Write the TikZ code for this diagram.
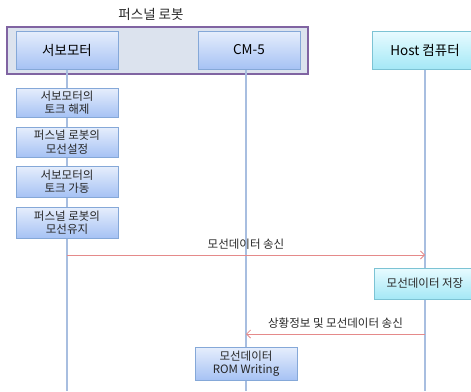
\documentclass[tikz,border=0pt]{standalone}
\usepackage{fontspec}
\setmainfont{Noto Sans CJK KR}
\usetikzlibrary{shadows,arrows.meta}
\definecolor{framecol}{HTML}{8064A2}
\definecolor{framefill}{HTML}{DCE3EE}
\definecolor{bluetop}{HTML}{E6EEFC}
\definecolor{bluebot}{HTML}{A6C2F4}
\definecolor{blueline}{HTML}{85A8D8}
\definecolor{cyantop}{HTML}{E8FBFF}
\definecolor{cyanbot}{HTML}{A4E8F6}
\definecolor{cyanline}{HTML}{7CC3D4}
\definecolor{lifecol}{HTML}{A8BEE0}
\definecolor{msgcol}{HTML}{E58A8A}
\tikzset{
  bluebox/.style={draw=blueline, line width=0.8pt, top color=bluetop, bottom color=bluebot,
    drop shadow={shadow xshift=1.2pt, shadow yshift=-1.2pt, opacity=0.35}, align=center, inner sep=0pt},
  cyanbox/.style={draw=cyanline, line width=0.8pt, top color=cyantop, bottom color=cyanbot,
    drop shadow={shadow xshift=1.2pt, shadow yshift=-1.2pt, opacity=0.35}, align=center, inner sep=0pt},
  lifeline/.style={draw=lifecol, line width=1.2pt},
  msg/.style={draw=msgcol, line width=0.8pt, -{Straight Barb[length=4pt,width=8pt]}},
  msglabel/.style={font=\fontsize{11.5}{13}\selectfont, text=black!85},
  headtext/.style={font=\fontsize{13.5}{15}\selectfont},
  acttext/.style={font=\fontsize{11.5}{13.5}\selectfont, text=black!85}
}
\begin{document}
\begin{tikzpicture}[x=1pt,y=-1pt]
\useasboundingbox (0,0) rectangle (471,391);
\clip (0,0) rectangle (471,391);
% frame
\node[draw=framecol, line width=2pt, fill=framefill, minimum width=301pt, minimum height=47pt, inner sep=0pt] (frame) at (157.5,50.5) {};
\node[headtext, text=black!85] (title) at (151,14) {퍼스널 로봇};
% lifeline coordinates
\coordinate (sbTop) at (67,69);
\coordinate (sbEnd) at (67,391);
\coordinate (cmTop) at (246,69);
\coordinate (cmEnd) at (246,391);
\coordinate (hoTop) at (425,69);
\coordinate (hoEnd) at (425,391);
\draw[lifeline] (sbTop) -- (sbEnd);
\draw[lifeline] (cmTop) -- (cmEnd);
\draw[lifeline] (hoTop) -- (hoEnd);
% header boxes
\node[bluebox, headtext, minimum width=102pt, minimum height=38pt] (sb) at (67,50) {서보모터};
\node[bluebox, headtext, minimum width=102pt, minimum height=38pt] (cm) at (249,50) {CM-5};
\node[cyanbox, headtext, minimum width=106pt, minimum height=38pt] (ho) at (425,50) {Host 컴퓨터};
% action boxes
\node[bluebox, acttext, minimum width=102pt, minimum height=29pt] (a1) at (67,102.5) {서보모터의\\토크 해제};
\node[bluebox, acttext, minimum width=102pt, minimum height=30pt] (a2) at (67,142) {퍼스널 로봇의\\모선설정};
\node[bluebox, acttext, minimum width=102pt, minimum height=31pt] (a3) at (67,181.5) {서보모터의\\토크 가동};
\node[bluebox, acttext, minimum width=102pt, minimum height=31pt] (a4) at (67,222.5) {퍼스널 로봇의\\모선유지};
% message 1
\coordinate (m1s) at (67,255);
\coordinate (m1e) at (425,255);
\draw[msg] (m1s) -- node[msglabel, above=2pt] (l1) {모선데이터 송신} (m1e);
% store box
\node[cyanbox, acttext, minimum width=102pt, minimum height=31pt] (store) at (425,283.5) {모선데이터 저장};
% message 2
\coordinate (m2s) at (425,334);
\coordinate (m2e) at (246,334);
\draw[msg] (m2s) -- node[msglabel, above=2pt] (l2) {상황정보 및 모선데이터 송신} (m2e);
% ROM box
\node[bluebox, acttext, minimum width=102pt, minimum height=33pt] (rom) at (246,363.5) {모선데이터\\ROM Writing};
\end{tikzpicture}
\end{document}
